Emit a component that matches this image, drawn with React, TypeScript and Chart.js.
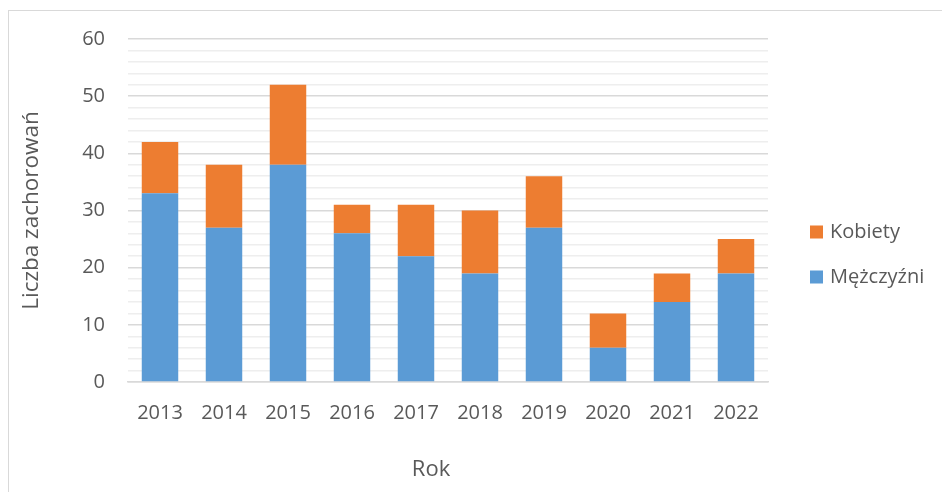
import React, { useEffect, useRef } from "react";
import { Chart, registerables } from "chart.js";

Chart.register(...registerables);

const years = ["2013", "2014", "2015", "2016", "2017", "2018", "2019", "2020", "2021", "2022"];
const men = [33, 27, 38, 26, 22, 19, 27, 6, 14, 19];
const women = [9, 11, 14, 5, 9, 11, 9, 6, 5, 6];
const seriesLabels = ["Mężczyźni", "Kobiety"];
const seriesColors = ["#5B9BD5", "#ED7D31"];
const yTitle = "Liczba zachorowań";
const xTitle = "Rok";
const yMax = 60;

const FONT = "'Open Sans', sans-serif";
const TEXT = "#595959";

const overlayPlugin = {
  id: "overlay",
  afterDraw(chart: any) {
    const ctx = chart.ctx;
    ctx.save();
    // x title
    ctx.fillStyle = TEXT;
    ctx.font = `22px ${FONT}`;
    ctx.textAlign = "center";
    ctx.textBaseline = "middle";
    ctx.fillText(xTitle, 422, 459);
    // legend (reverse order: Kobiety on top)
    const ds = chart.data.datasets;
    const order = [1, 0];
    order.forEach((idx, i) => {
      const cy = 221 + i * 45;
      ctx.fillStyle = ds[idx].backgroundColor;
      ctx.fillRect(801, cy - 6.5, 13, 13);
      ctx.fillStyle = TEXT;
      ctx.font = `20px ${FONT}`;
      ctx.textAlign = "left";
      ctx.textBaseline = "middle";
      ctx.fillText(ds[idx].label, 821, cy);
    });
    ctx.restore();
  },
};

export default function App() {
  const ref = useRef<HTMLCanvasElement>(null);
  useEffect(() => {
    const chart = new Chart(ref.current!, {
      type: "bar",
      data: {
        labels: years,
        datasets: [
          { label: seriesLabels[0], data: men, backgroundColor: seriesColors[0] },
          { label: seriesLabels[1], data: women, backgroundColor: seriesColors[1] },
        ],
      },
      options: {
        animation: false,
        responsive: false,
        layout: { padding: { left: 0, right: 174, top: 28, bottom: 0 } },
        datasets: { bar: { barPercentage: 0.57, categoryPercentage: 1 } },
        plugins: { legend: { display: false }, tooltip: { enabled: false } },
        scales: {
          x: {
            stacked: true,
            grid: { display: false, drawTicks: false },
            border: { display: true, color: "#d9d9d9", width: 1.5 },
            ticks: { color: TEXT, font: { family: FONT, size: 20 }, padding: 19 },
            afterFit: (s: any) => {
              s.height = 110;
              s.paddingLeft = 0;
              s.paddingRight = 0;
            },
          },
          y: {
            stacked: true,
            min: 0,
            max: yMax,
            grid: {
              drawTicks: false,
              color: (c: any) => (c.tick && c.tick.value % 10 === 0 ? "#d9d9d9" : "#eeeeee"),
              lineWidth: 1.5,
            },
            border: { display: false },
            ticks: {
              stepSize: 2,
              autoSkip: false,
              color: TEXT,
              font: { family: FONT, size: 20 },
              padding: 23,
              callback: (v: any) => (v % 10 === 0 ? String(v) : ""),
            },
            title: {
              display: true,
              text: yTitle,
              color: TEXT,
              font: { family: FONT, size: 22.5 },
              padding: { top: 9, bottom: 0 },
            },
            afterFit: (s: any) => {
              s.width = 119;
              s.paddingTop = 0;
              s.paddingBottom = 0;
            },
          },
        },
      },
      plugins: [overlayPlugin],
    });
    return () => chart.destroy();
  }, []);
  return (
    <div
      style={{
        position: "fixed",
        left: 8,
        top: 10,
        width: 934,
        height: 482,
        boxSizing: "border-box",
        borderLeft: "1px solid #d9d9d9",
        borderTop: "1px solid #d9d9d9",
        background: "#fff",
      }}
    >
      <canvas ref={ref} width={933} height={481} style={{ display: "block" }} />
    </div>
  );
}
